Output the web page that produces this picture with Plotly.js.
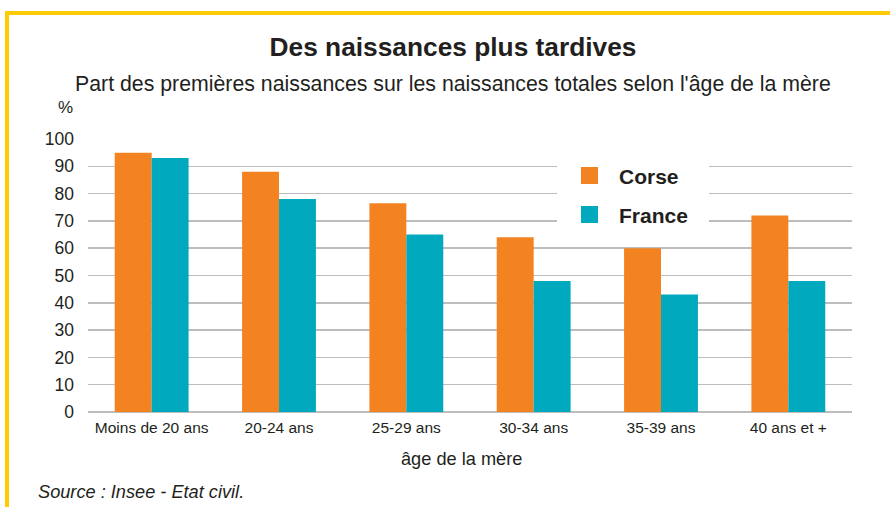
<!DOCTYPE html>
<html>
<head>
<meta charset="utf-8">
<script src="https://cdn.plot.ly/plotly-3.0.1.min.js"></script>
<style>
  html, body { margin:0; padding:0; background:#fff; }
  #wrap { position:relative; width:890px; height:507px; overflow:hidden; }
  #frame { position:absolute; left:5px; top:11px; width:900px; height:520px;
           border-top:4px solid #FFCB05; border-left:4px solid #FFCB05; box-sizing:border-box; }
  #chart { position:absolute; left:0; top:0; width:890px; height:507px; }
</style>
</head>
<body>
<div id="wrap">
  <div id="frame"></div>
  <div id="chart"></div>
</div>
<script>
const categories = ["Moins de 20 ans", "20-24 ans", "25-29 ans", "30-34 ans", "35-39 ans", "40 ans et +"];
const seriesNames = ["Corse", "France"];
const corse = [95, 88, 76.5, 64, 60, 72];
const france = [93, 78, 65, 48, 43, 48];
const yTicks = [0, 10, 20, 30, 40, 50, 60, 70, 80, 90, 100];
const colors = ["#F38321", "#00A9BD"];

const W = 890, H = 507;
const L = 88, R = 852, T = 139, B = 412;
const px = x => (x - L) / (R - L);
const py = y => (B - y) / (B - T);
const FONT = "Liberation Sans, Arial, Helvetica, sans-serif";
const TXT = "#231F20";

const traces = [
  { type: "bar", name: seriesNames[0], x: categories, y: corse, marker: { color: colors[0] }, showlegend: false, hoverinfo: "x+y+name" },
  { type: "bar", name: seriesNames[1], x: categories, y: france, marker: { color: colors[1] }, showlegend: false, hoverinfo: "x+y+name" }
];

const shapes = [
  // legend background box
  { type: "rect", xref: "paper", yref: "paper", x0: px(557), x1: px(709), y0: py(238), y1: py(146),
    fillcolor: "#ffffff", line: { width: 0 }, layer: "above" },
  // legend swatches
  { type: "rect", xref: "paper", yref: "paper", x0: px(581), x1: px(598), y0: py(184), y1: py(167),
    fillcolor: colors[0], line: { width: 0 }, layer: "above" },
  { type: "rect", xref: "paper", yref: "paper", x0: px(581), x1: px(598), y0: py(223), y1: py(206),
    fillcolor: colors[1], line: { width: 0 }, layer: "above" }
];

const annotations = [
  { text: "Part des premières naissances sur les naissances totales selon l'âge de la mère",
    xref: "paper", yref: "paper", x: px(452.5), y: py(83.5), xanchor: "center", yanchor: "middle",
    showarrow: false, font: { family: FONT, size: 21.3, color: TXT } },
  { text: "%", xref: "paper", yref: "paper", x: px(65), y: py(107), xanchor: "center", yanchor: "middle",
    showarrow: false, font: { family: FONT, size: 17, color: TXT } },
  { text: "âge de la mère", xref: "paper", yref: "paper", x: px(461.5), y: py(459), xanchor: "center", yanchor: "middle",
    showarrow: false, font: { family: FONT, size: 18.2, color: TXT } },
  { text: "<i>Source : Insee - Etat civil.</i>", xref: "paper", yref: "paper", x: px(36), y: py(491.5), xanchor: "left", yanchor: "middle",
    showarrow: false, font: { family: FONT, size: 18.2, color: TXT } },
  { text: "<b>" + seriesNames[0] + "</b>", xref: "paper", yref: "paper", x: px(617), y: py(176), xanchor: "left", yanchor: "middle",
    showarrow: false, font: { family: FONT, size: 21, color: TXT } },
  { text: "<b>" + seriesNames[1] + "</b>", xref: "paper", yref: "paper", x: px(617), y: py(215.5), xanchor: "left", yanchor: "middle",
    showarrow: false, font: { family: FONT, size: 21, color: TXT } }
];

const layout = {
  width: W, height: H,
  margin: { l: L, r: W - R, t: T, b: H - B, pad: 0 },
  paper_bgcolor: "rgba(0,0,0,0)",
  plot_bgcolor: "rgba(0,0,0,0)",
  title: { text: "<b>Des naissances plus tardives</b>", x: 453 / W, xref: "container", xanchor: "center",
           y: 1 - 46.5 / H, yref: "container", yanchor: "middle",
           font: { family: FONT, size: 26.3, color: TXT } },
  barmode: "group",
  bargap: 0.42,
  bargroupgap: 0,
  showlegend: false,
  xaxis: {
    type: "category",
    showgrid: false, zeroline: false, showline: false, ticks: "",
    tickfont: { family: FONT, size: 15.5, color: TXT },
    ticklabelstandoff: 4
  },
  yaxis: {
    range: [0, 100], tickvals: yTicks, ticktext: yTicks.map(String),
    showgrid: true, gridcolor: "#BDBDBD", gridwidth: 1.5,
    zeroline: true, zerolinecolor: "#BDBDBD", zerolinewidth: 1.5,
    showline: false, ticks: "",
    tickfont: { family: FONT, size: 17.5, color: TXT },
    ticklabelstandoff: 13
  },
  shapes: shapes,
  annotations: annotations
};

Plotly.newPlot("chart", traces, layout, { displayModeBar: false, staticPlot: true });
</script>
</body>
</html>
